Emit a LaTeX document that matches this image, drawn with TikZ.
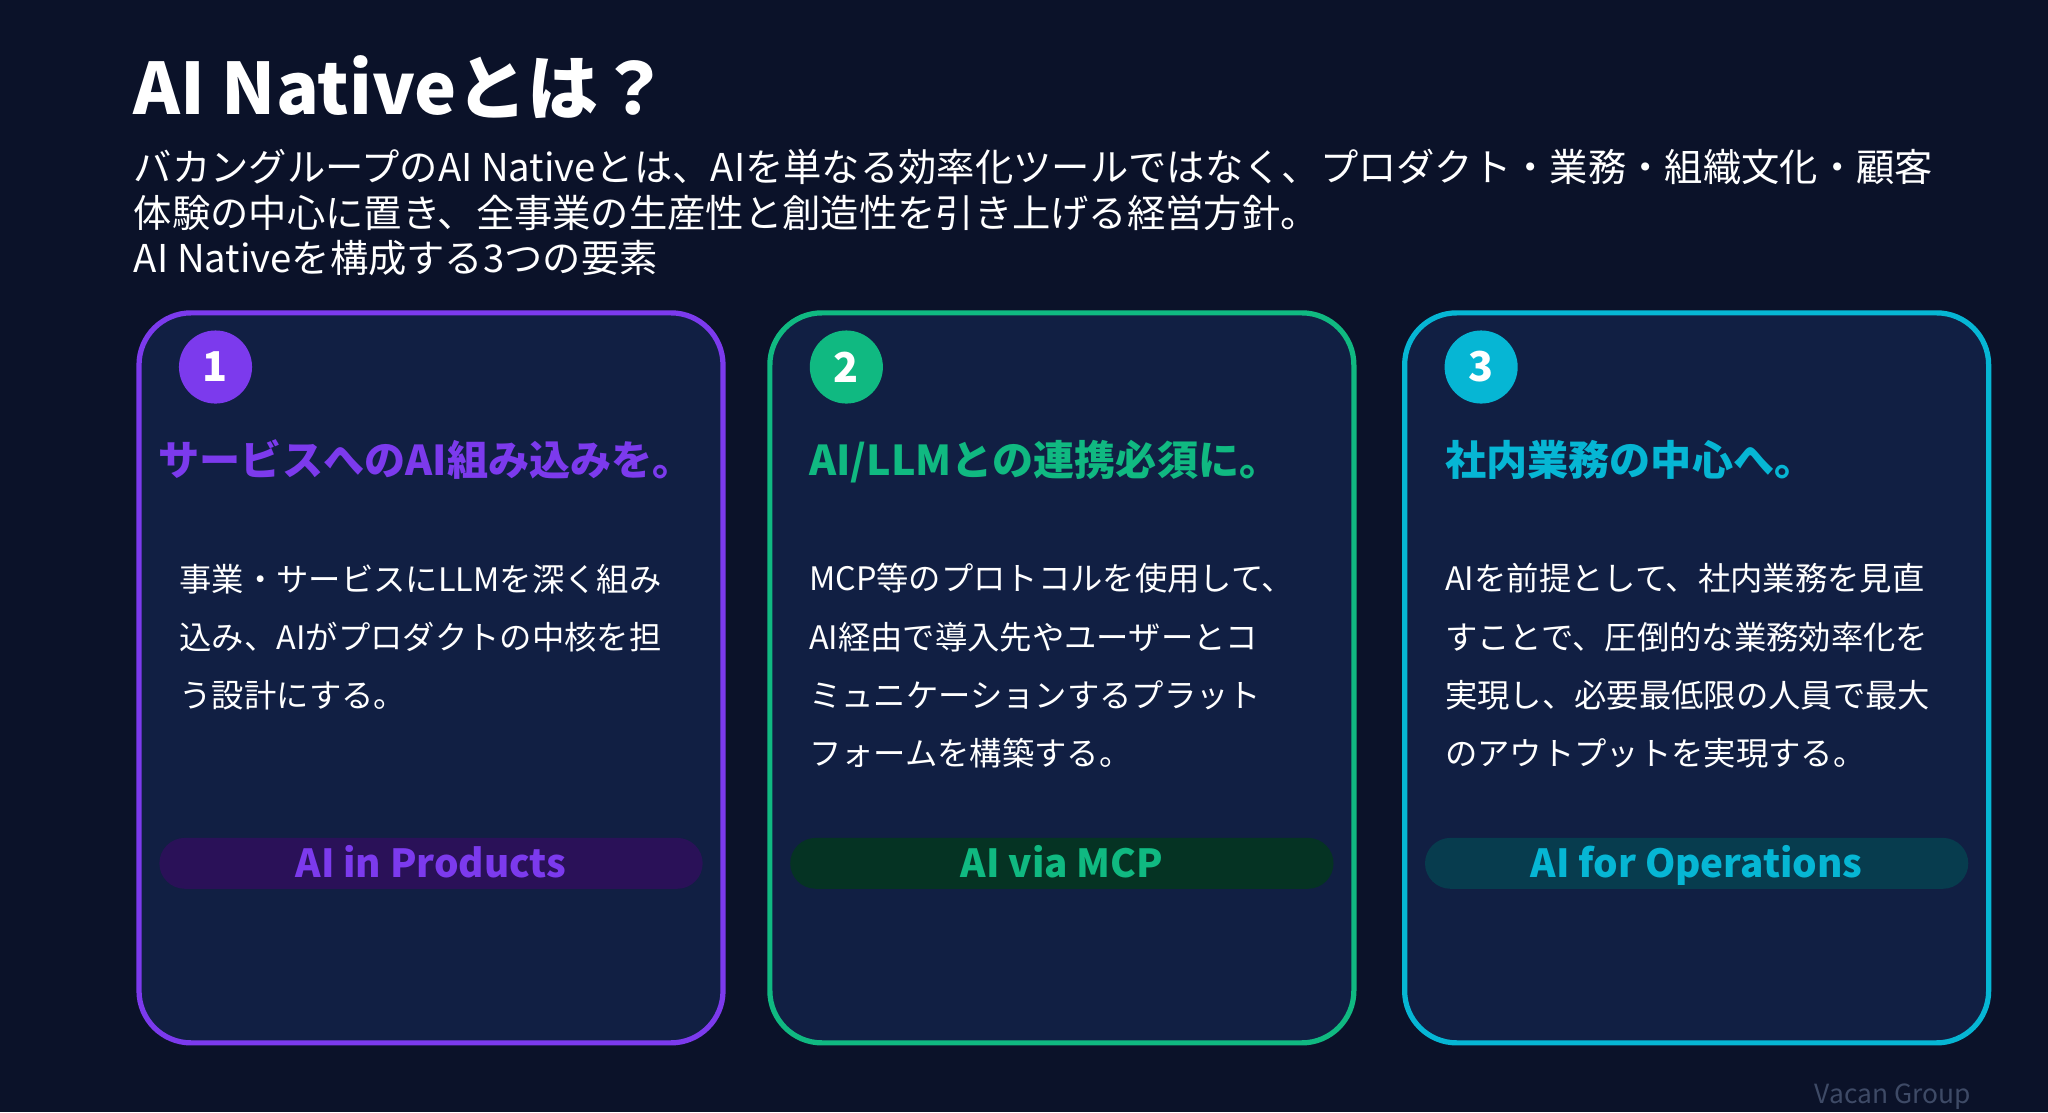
\documentclass[tikz,border=0pt]{standalone}
\usepackage{fontspec}
\setmainfont{Noto Sans CJK JP}
\usepackage{xcolor}
\usepackage{tikz}

\definecolor{bgnavy}{HTML}{0B1229}
\definecolor{cardfill}{HTML}{111F43}
\definecolor{vpurple}{HTML}{7C3AED}
\definecolor{vgreen}{HTML}{10B981}
\definecolor{vcyan}{HTML}{06B6D4}
\definecolor{pillpurple}{HTML}{2A1158}
\definecolor{pillgreen}{HTML}{053323}
\definecolor{pillcyan}{HTML}{073C4E}
\definecolor{footgray}{HTML}{3E4A66}

\tikzset{
	card/.style={draw=#1, fill=cardfill, line width=1.49pt, rounded corners=0.52cm,
		minimum width=5.84cm, minimum height=7.3cm, inner sep=0pt},
	badge/.style={circle, fill=#1, minimum size=0.731cm, inner sep=0pt, text=white,
		font=\bfseries\fontsize{11.7}{13}\selectfont},
	cardtitle/.style={anchor=base west, inner sep=0pt, text=#1,
		font=\bfseries\fontsize{11.7}{13}\selectfont},
	cardbody/.style={anchor=base west, inner sep=0pt, text=white, align=left,
		font=\fontsize{9.2}{16.54}\selectfont},
	pill/.style={fill=#1, rounded corners=0.255cm, minimum width=5.433cm,
		minimum height=0.509cm, inner sep=0pt, text height=0.98em, text depth=0.2em,
		font=\bfseries\fontsize{11}{13}\selectfont},
}

\begin{document}
\begin{tikzpicture}[x=0.013061cm, y=-0.013061cm]
			% background
			\fill[bgnavy] (0,0) rectangle (1568,851.4);
			\useasboundingbox (0,0) rectangle (1568,851.4);

			% heading (multi-line nodes sit on their last baseline)
			\node(title)[anchor=base west, inner sep=0pt, text=white,
				font=\bfseries\fontsize{20.2}{24}\selectfont] at (102,88) {AI Nativeとは？};
			\node(intro)[anchor=base west, inner sep=0pt, text=white, align=left,
				font=\fontsize{10.9}{13}\selectfont] at (102,209)
			{
				バカングループのAI Nativeとは、AIを単なる効率化ツールではなく、プロダクト・業務・組織文化・顧客\\
				体験の中心に置き、全事業の生産性と創造性を引き上げる経営方針。\\
				AI Nativeを構成する3つの要素
			};

			% cards
			\node(card1)[card=vpurple] at (330,519) {};
			\node(card2)[card=vgreen] at (813,519) {};
			\node(card3)[card=vcyan] at (1299,519) {};

			\node(num1)[badge=vpurple] at (165,281) {1};
			\node(num2)[badge=vgreen] at (648,281) {2};
			\node(num3)[badge=vcyan] at (1134,281) {3};

			\node(head1)[cardtitle=vpurple] at (121,364) {サービスへのAI組み込みを。};
			\node(head2)[cardtitle=vgreen] at (619,364) {AI/LLMとの連携必須に。};
			\node(head3)[cardtitle=vcyan] at (1106,364) {社内業務の中心へ。};

			\node(body1)[cardbody] at (137,541.5)
			{
				事業・サービスにLLMを深く組み\\
				込み、AIがプロダクトの中核を担\\
				う設計にする。
			};
			\node(body2)[cardbody] at (619,586)
			{
				MCP等のプロトコルを使用して、\\
				AI経由で導入先やユーザーとコ\\
				ミュニケーションするプラット\\
				フォームを構築する。
			};
			\node(body3)[cardbody] at (1106,586)
			{
				AIを前提として、社内業務を見直\\
				すことで、圧倒的な業務効率化を\\
				実現し、必要最低限の人員で最大\\
				のアウトプットを実現する。
			};

			\node(tag1)[pill=pillpurple, text=vpurple] at (330,661) {AI in Products};
			\node(tag2)[pill=pillgreen, text=vgreen] at (813,661) {AI via MCP};
			\node(tag3)[pill=pillcyan, text=vcyan] at (1299,661) {AI for Operations};

			% footer
			\node(footer)[text=footgray, inner sep=0pt, font=\fontsize{7.5}{9}\selectfont] at (1449,840) {Vacan Group};
		\end{tikzpicture}
\end{document}
